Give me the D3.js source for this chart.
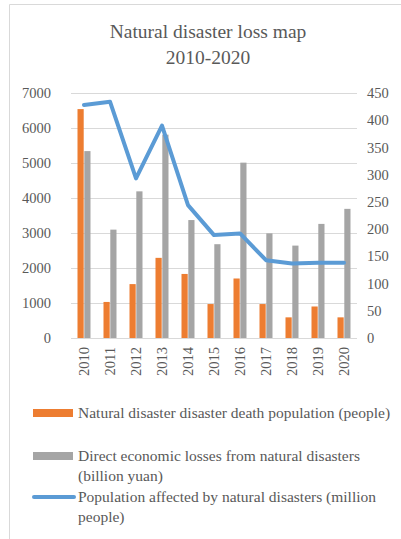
<!DOCTYPE html>
<html>
<head>
<meta charset="utf-8">
<script src="https://cdn.jsdelivr.net/npm/d3@7"></script>
<style>
  body { margin: 0; background: #fff; }
  svg text { font-family: "Liberation Serif", "Times New Roman", serif; fill: #595959; }
</style>
</head>
<body>
<script>
// Data
const years = ["2010", "2011", "2012", "2013", "2014", "2015", "2016", "2017", "2018", "2019", "2020"];
const deaths = [6540, 1030, 1540, 2290, 1830, 970, 1700, 970, 590, 900, 590];
const losses = [5340, 3096, 4190, 5810, 3370, 2680, 5010, 2990, 2640, 3260, 3690];
const affected = [428, 434, 293, 390, 244, 189, 192, 143, 137, 138, 138];
const leftTicks = [0, 1000, 2000, 3000, 4000, 5000, 6000, 7000];
const rightTicks = [0, 50, 100, 150, 200, 250, 300, 350, 400, 450];

const width = 401;
const height = 539;
const svg = d3.select("body")
  .append("svg")
  .attr("width", width)
  .attr("height", height)
  .attr("font-family", "Liberation Serif, serif");

// frame
svg.append("path")
  .attr("d", "M9.5,539 V4.5 H401")
  .attr("fill", "none")
  .attr("stroke", "#d9d9d9");

// Title
const title = svg.append("text")
  .attr("text-anchor", "middle")
  .style("font-size", "19.5px");
title.append("tspan").attr("x", 208).attr("y", 38).text("Natural disaster loss map");
title.append("tspan").attr("x", 208).attr("y", 64).text("2010-2020");

const x0 = 71, x1 = 357, yTop = 93, yBot = 338;

const x = d3.scaleBand().domain(years).range([x0, x1]);
const yL = d3.scaleLinear().domain([0, 7000]).range([yBot, yTop]);
const yR = d3.scaleLinear().domain([0, 450]).range([yBot, yTop]);

// gridlines
svg.append("g")
  .selectAll("line")
  .data(leftTicks)
  .enter()
  .append("line")
  .attr("x1", x0)
  .attr("x2", x1)
  .attr("y1", d => Math.round(yL(d)) + 0.5)
  .attr("y2", d => Math.round(yL(d)) + 0.5)
  .attr("stroke", "#d9d9d9");

// left axis labels
svg.append("g")
  .selectAll("text")
  .data(leftTicks)
  .enter()
  .append("text")
  .attr("x", 51)
  .attr("y", d => yL(d))
  .attr("dy", "0.35em")
  .attr("text-anchor", "end")
  .style("font-size", "14.5px")
  .text(d => d);

// right axis labels
svg.append("g")
  .selectAll("text")
  .data(rightTicks)
  .enter()
  .append("text")
  .attr("x", 367)
  .attr("y", d => yR(d))
  .attr("dy", "0.35em")
  .style("font-size", "14.5px")
  .text(d => d);

// bars
const bw = 6.2;
svg.append("g")
  .selectAll("rect")
  .data(deaths)
  .enter()
  .append("rect")
  .attr("x", (d, i) => x(years[i]) + x.bandwidth() / 2 - bw - 0.3)
  .attr("y", d => yL(d))
  .attr("width", bw)
  .attr("height", d => yBot - yL(d))
  .attr("fill", "#ed7d31");

svg.append("g")
  .selectAll("rect")
  .data(losses)
  .enter()
  .append("rect")
  .attr("x", (d, i) => x(years[i]) + x.bandwidth() / 2 + 0.3)
  .attr("y", d => yL(d))
  .attr("width", bw)
  .attr("height", d => yBot - yL(d))
  .attr("fill", "#a5a5a5");

// line
const line = d3.line()
  .x((d, i) => x(years[i]) + x.bandwidth() / 2)
  .y(d => yR(d));

svg.append("path")
  .datum(affected)
  .attr("d", line)
  .attr("fill", "none")
  .attr("stroke", "#5b9bd5")
  .attr("stroke-width", 4)
  .attr("stroke-linejoin", "round")
  .attr("stroke-linecap", "round");

// x labels, rotated
svg.append("g")
  .selectAll("text")
  .data(years)
  .enter()
  .append("text")
  .attr("transform", d => `translate(${x(d) + x.bandwidth() / 2},347) rotate(-90)`)
  .attr("dy", "0.35em")
  .attr("text-anchor", "end")
  .style("font-size", "14.5px")
  .text(d => d);

// legend
const legend = svg.append("g").style("font-size", "15.5px");

legend.append("rect")
  .attr("x", 33).attr("y", 409).attr("width", 40).attr("height", 8)
  .attr("fill", "#ed7d31");
legend.append("text")
  .attr("x", 78).attr("y", 418)
  .text("Natural disaster disaster death population (people)");

legend.append("rect")
  .attr("x", 33).attr("y", 452).attr("width", 40).attr("height", 8)
  .attr("fill", "#a5a5a5");
const t2 = legend.append("text");
t2.append("tspan").attr("x", 78).attr("y", 461).text("Direct economic losses from natural disasters");
t2.append("tspan").attr("x", 78).attr("y", 481).text("(billion yuan)");

legend.append("line")
  .attr("x1", 34).attr("x2", 74).attr("y1", 497).attr("y2", 497)
  .attr("stroke", "#5b9bd5")
  .attr("stroke-width", 4)
  .attr("stroke-linecap", "round");
const t3 = legend.append("text");
t3.append("tspan").attr("x", 78).attr("y", 502).text("Population affected by natural disasters (million");
t3.append("tspan").attr("x", 78).attr("y", 522).text("people)");
</script>
</body>
</html>
